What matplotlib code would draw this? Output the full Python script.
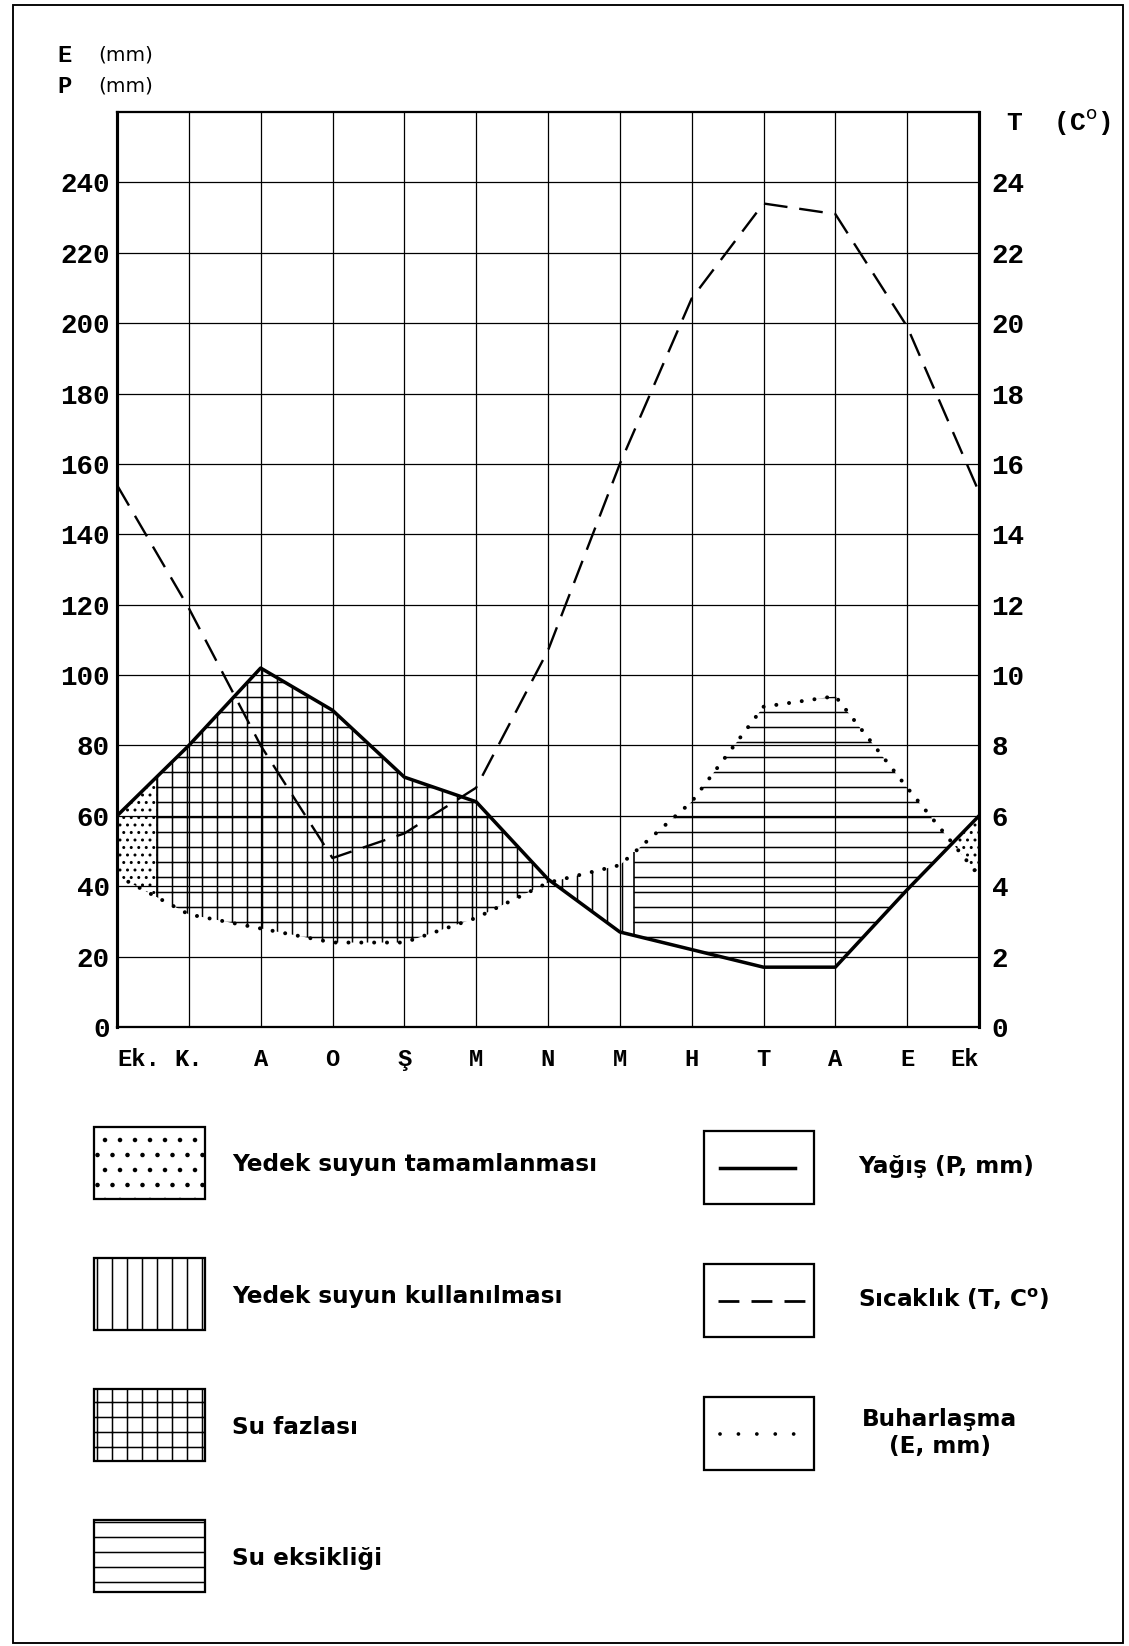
# su bilancosu diyagrami (Thornthwaite)

import matplotlib.pyplot as plt
from matplotlib.patches import Rectangle
import numpy as np

# aylar: Ekim -> Ekim
months = ['Ek.', 'K.', 'A', 'O', 'Ş', 'M', 'N', 'M', 'H', 'T', 'A', 'E', 'Ek']
precip = [60, 80, 102, 90, 71, 64, 42, 27, 22, 17, 17, 39, 60]      # P, mm
evap = [43, 32, 28, 24, 24, 31, 41, 46, 64, 91, 94, 68, 43]         # E, mm
temp = [15.4, 11.9, 8.0, 4.8, 5.5, 6.8, 10.7, 16.0, 20.7, 23.4, 23.1, 19.9, 15.2]  # T, C
mm_ticks = list(range(0, 260, 20))
t_ticks = list(range(0, 26, 2))

# yedek suyun bittigi / eksikligin basladigi yer (ay)
recharge_end = 0.55
deficit_start = 7.2

patch_labels = ['Yedek suyun tamamlanması', 'Yedek suyun kullanılması', 'Su fazlası', 'Su eksikliği']
patch_hatches = ['.', '|', '+', '-']
line_labels = ['Yağış (P, mm)', 'Sıcaklık (T, C$^{\\mathbf{o}}$)', 'Buharlaşma\n(E, mm)']

W, H, DPI = 1129, 1646, 90
plt.rcParams['hatch.linewidth'] = 1.2
mono = 'Liberation Mono'
sans = 'DejaVu Sans'

fig = plt.figure(figsize=(W / DPI, H / DPI), dpi=DPI)

# sayfa: piksel koordinatlari
page = fig.add_axes([0, 0, 1, 1])
page.set_xlim(0, W)
page.set_ylim(H, 0)
page.axis('off')
page.add_patch(Rectangle((13, 5), 1110, 1638, fill=False, lw=1.5))


def box(x0, y0, x1, y1):
    return [x0 / W, 1 - y1 / H, (x1 - x0) / W, (y1 - y0) / H]


ax = fig.add_axes(box(117, 112, 979, 1027))
x = np.arange(len(months))

xs = np.round(np.linspace(0, 12, 1201), 2)
p = np.interp(xs, x, precip)
e = np.interp(xs, x, evap)
kw = dict(facecolor='none', edgecolor='black', linewidth=0, interpolate=True)
ax.fill_between(xs, e, p, where=(p >= e) & ((xs <= recharge_end) | (xs >= 11)), hatch='..', **kw)
ax.fill_between(xs, e, p, where=(p >= e) & (xs >= recharge_end) & (xs <= 7), hatch='+', **kw)
ax.fill_between(xs, p, e, where=(e >= p) & (xs >= 5) & (xs <= deficit_start), hatch='|', **kw)
ax.fill_between(xs, p, e, where=(e >= p) & (xs >= deficit_start), hatch='-', **kw)
edges = [recharge_end, deficit_start]
ax.vlines(edges, np.interp(edges, x, evap), np.interp(edges, x, precip), color='black', lw=1.3)

ax.plot(x, precip, color='black', lw=2.8)
ax.plot(x, evap, color='black', lw=3.2, linestyle=(0, (0.01, 3.2)), dash_capstyle='round')

ax.set_xlim(0, 12)
ax.set_ylim(0, 260)
ax.set_xticks(x)
ax.set_xticklabels(months, fontfamily=mono, fontweight='bold', fontsize=19)
ax.set_yticks(mm_ticks)
ax.set_yticklabels([str(v) for v in mm_ticks], fontfamily=mono, fontweight='bold', fontsize=22)
ax.tick_params(axis='x', length=0, pad=17)
ax.tick_params(axis='y', length=0, pad=6)
labels = ax.get_xticklabels()
labels[0].set_ha('left')
labels[-1].set_ha('right')
ax.grid(color='black', lw=1.0)
for side in ['left', 'right']:
    ax.spines[side].set_linewidth(2.5)
for side in ['top', 'bottom']:
    ax.spines[side].set_linewidth(1.8)

ax2 = ax.twinx()
ax2.plot(x, temp, color='black', lw=1.9, dashes=(10, 5))
ax2.set_ylim(0, 26)
ax2.set_yticks(t_ticks)
ax2.set_yticklabels([str(v) for v in t_ticks], fontfamily=mono, fontweight='bold', fontsize=22)
ax2.tick_params(axis='y', length=0, pad=10)
for s in ax2.spines.values():
    s.set_visible(False)

# eksen basliklari
page.text(57, 55, 'E', fontfamily=mono, fontweight='bold', fontsize=19, va='center')
page.text(57, 86, 'P', fontfamily=mono, fontweight='bold', fontsize=19, va='center')
page.text(98, 55, '(mm)', fontfamily=sans, fontsize=16, va='center')
page.text(98, 86, '(mm)', fontfamily=sans, fontsize=16, va='center')
page.text(1006, 122, 'T  (C$^{\\rm o}$)', fontfamily=mono, fontweight='bold', fontsize=21, va='center')

# lejant - sol sutun
for i, (lab, h) in enumerate(zip(patch_labels, patch_hatches)):
    top = 1127 + i * 131
    page.add_patch(Rectangle((94, top), 111, 72, facecolor='none', edgecolor='black', lw=1.8, hatch=h))
    page.text(232, top + 38, lab, fontfamily=sans, fontweight='bold', fontsize=18.5, va='center')

# lejant - sag sutun
line_styles = [dict(linestyle='-', lw=2.8),
               dict(dashes=(7.6, 4.4), lw=2.2),
               dict(linestyle=(0, (0.01, 4.9)), lw=3.0, dash_capstyle='round')]
line_spans = [(720, 795), (718, 805), (720, 795)]
for i, (lab, st) in enumerate(zip(line_labels, line_styles)):
    top = 1131 + i * 133
    page.add_patch(Rectangle((704, top), 110, 73, facecolor='none', edgecolor='black', lw=1.8))
    page.plot(line_spans[i], [top + 37, top + 37], color='black', **st)
    if i < 2:
        page.text(858, top + 35, lab, fontfamily=sans, fontweight='bold', fontsize=18.5, va='center')
    else:
        page.text(940, top + 36, lab, fontfamily=sans, fontweight='bold', fontsize=18.5,
                  va='center', ha='center', linespacing=1.25)

fig.savefig('out.png', dpi=DPI)
